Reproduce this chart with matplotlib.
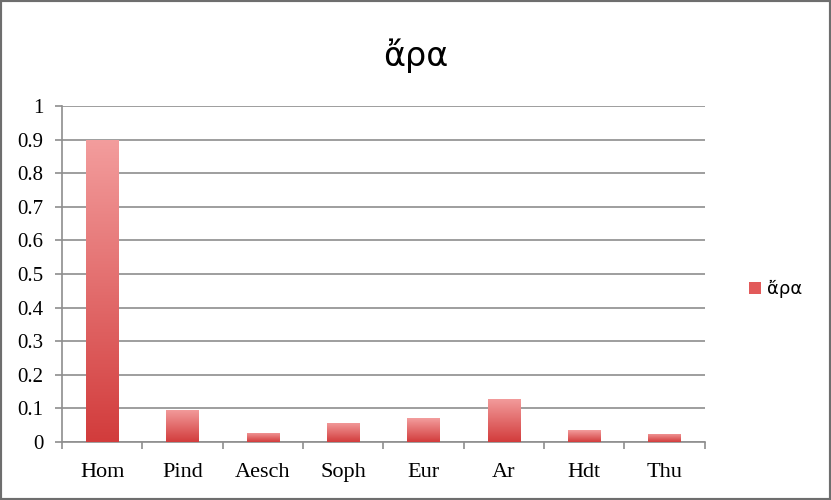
import matplotlib.pyplot as plt
import numpy as np
from matplotlib.colors import LinearSegmentedColormap
from matplotlib.patches import Rectangle

categories = ["Hom", "Pind", "Aesch", "Soph", "Eur", "Ar", "Hdt", "Thu"]
values = [0.9, 0.096, 0.028, 0.057, 0.07, 0.129, 0.035, 0.025]
series_name = "ἄρα"

grad = LinearSegmentedColormap.from_list("bar", ["#d23c3c", "#f39d9d"])
grid_color = "#8e8e8e"

fig = plt.figure(figsize=(8.31, 5), dpi=100)
ax = fig.add_axes([0.0746, 0.116, 0.7734, 0.672])

x = np.arange(len(categories))
width = 0.4
bars = ax.bar(x, values, width=width, color="none", zorder=3)
g = np.linspace(0, 1, 256).reshape(-1, 1)
for b in bars:
    x0, y0 = b.get_x(), b.get_y()
    im = ax.imshow(g, cmap=grad, origin="lower", aspect="auto",
                   extent=[x0, x0 + b.get_width(), y0, y0 + b.get_height()],
                   zorder=3)
    im.set_clip_path(b)

ax.set_xlim(-0.5, len(categories) - 0.5)
ax.set_ylim(0, 1)
ax.set_yticks(np.arange(0, 1.01, 0.1))
ax.set_yticklabels(["0", "0.1", "0.2", "0.3", "0.4", "0.5", "0.6", "0.7", "0.8", "0.9", "1"])
ax.set_xticks(x)
ax.set_xticklabels(categories)
ax.set_xticks(np.arange(-0.5, len(categories)), minor=True)
ax.tick_params(axis="x", which="major", length=0, pad=15)
ax.tick_params(axis="x", which="minor", length=5, color=grid_color, width=1.2)
ax.tick_params(axis="y", length=5, color=grid_color, width=1.2, pad=8.5)
ax.yaxis.grid(True, color=grid_color, linewidth=1.2, zorder=0)
ax.set_axisbelow(True)
for s in ["top", "right"]:
    ax.spines[s].set_visible(False)
for s in ["left", "bottom"]:
    ax.spines[s].set_color(grid_color)
    ax.spines[s].set_linewidth(1.2)

for lab in ax.get_xticklabels():
    lab.set_fontfamily("Liberation Serif")
    lab.set_fontsize(16)
for lab in ax.get_yticklabels():
    lab.set_fontfamily("Liberation Serif")
    lab.set_fontsize(15)

fig.text(0.5, 0.888, series_name, ha="center", va="center",
         fontsize=24, family="DejaVu Sans")

handle = Rectangle((0, 0), 1, 1, facecolor="#e25a5a", edgecolor="none")
ax.legend([handle], [series_name], loc="center left", bbox_to_anchor=(1.043, 0.455),
          frameon=False, prop={"family": "DejaVu Sans", "size": 13},
          handlelength=0.7, handleheight=0.7, handletextpad=0.3)

fig.patches.append(Rectangle((0, 0), 1, 1, transform=fig.transFigure, fill=False,
                             edgecolor="#6e6e6e", linewidth=3))

fig.savefig("out.png", dpi=100)
